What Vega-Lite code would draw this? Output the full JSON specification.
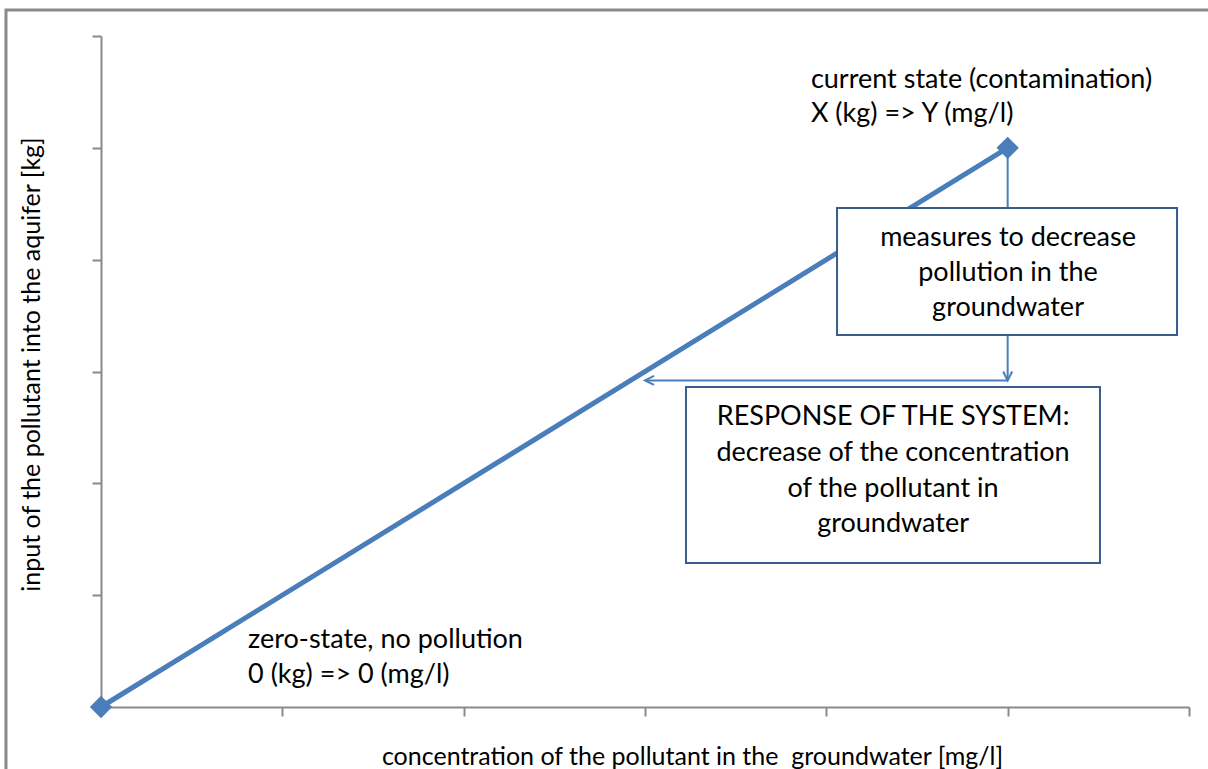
{
  "$schema": "https://vega.github.io/schema/vega-lite/v6.json",
  "width": 1088,
  "height": 671,
  "autosize": {"type": "none"},
  "padding": {"left": 101, "top": 36, "right": 19, "bottom": 62},
  "background": "white",
  "config": {
    "view": {"stroke": null},
    "font": "Lato",
    "axis": {
      "labels": false,
      "grid": false,
      "domainColor": "#8a8a8a",
      "domainWidth": 2,
      "tickColor": "#8a8a8a",
      "tickWidth": 2,
      "tickSize": 9,
      "titleFont": "Lato",
      "titleFontSize": 25,
      "titleFontWeight": "normal",
      "titleColor": "#000000"
    }
  },
  "datasets": {
    "border": [{"x1": -0.524, "x2": 7, "y1": 6.233, "y2": -1}],
    "series": [
      {"conc": 0, "input": 0, "state": "zero-state"},
      {"conc": 5, "input": 5, "state": "current state"}
    ],
    "connectors": [
      {"x1": 5, "y1": 5, "x2": 5, "y2": 2.92},
      {"x1": 5, "y1": 2.92, "x2": 3, "y2": 2.92}
    ],
    "boxes": [
      {"x1": 4.059, "x2": 5.934, "y1": 4.462, "y2": 3.326},
      {"x1": 3.226, "x2": 5.509, "y1": 2.861, "y2": 1.288}
    ],
    "freeText": [
      {"x": 3.915, "y": 5.607, "label": "current state (contamination)"},
      {"x": 3.915, "y": 5.303, "label": "X (kg) => Y (mg/l)"},
      {"x": 0.811, "y": 0.599, "label": "zero-state, no pollution"},
      {"x": 0.811, "y": 0.286, "label": "0 (kg) => 0 (mg/l)"}
    ],
    "boxText": [
      {"x": 5.002, "y": 4.194, "label": "measures to decrease"},
      {"x": 5.002, "y": 3.881, "label": "pollution in the"},
      {"x": 5.002, "y": 3.568, "label": "groundwater"},
      {"x": 4.368, "y": 2.593, "label": "RESPONSE OF THE SYSTEM:"},
      {"x": 4.368, "y": 2.271, "label": "decrease of the concentration"},
      {"x": 4.368, "y": 1.949, "label": "of the pollutant in"},
      {"x": 4.368, "y": 1.636, "label": "groundwater"}
    ],
    "arrowDown": [{"x": 5, "y": 2.92}],
    "arrowLeft": [{"x": 3, "y": 2.92}]
  },
  "layer": [
    {
      "data": {"name": "series"},
      "mark": {"type": "line", "color": "#4a7ebb", "strokeWidth": 5},
      "encoding": {
        "x": {
          "field": "conc", "type": "quantitative",
          "scale": {"domain": [0, 6], "nice": false},
          "axis": {"values": [0, 1, 2, 3, 4, 5, 6], "title": "concentration of the pollutant in the \u00a0groundwater [mg/l]", "titlePadding": 27, "titleX": 591}
        },
        "y": {
          "field": "input", "type": "quantitative",
          "scale": {"domain": [0, 6], "nice": false},
          "axis": {"values": [0, 1, 2, 3, 4, 5, 6], "title": "input of the pollutant into the aquifer [kg]", "titlePadding": 47, "titleY": 328}
        }
      }
    },
    {
      "data": {"name": "border"},
      "mark": {"type": "rect", "fill": null, "stroke": "#8a8a8a", "strokeWidth": 3, "clip": false},
      "encoding": {
        "x": {"field": "x1", "type": "quantitative"},
        "x2": {"field": "x2"},
        "y": {"field": "y1", "type": "quantitative"},
        "y2": {"field": "y2"}
      }
    },
    {
      "data": {"name": "connectors"},
      "mark": {"type": "rule", "color": "#4a7ebb", "strokeWidth": 2},
      "encoding": {
        "x": {"field": "x1", "type": "quantitative"},
        "x2": {"field": "x2"},
        "y": {"field": "y1", "type": "quantitative"},
        "y2": {"field": "y2"}
      }
    },
    {
      "data": {"name": "series"},
      "mark": {"type": "point", "shape": "diamond", "filled": true, "color": "#4a7ebb", "size": 500, "opacity": 1},
      "encoding": {
        "x": {"field": "conc", "type": "quantitative"},
        "y": {"field": "input", "type": "quantitative"}
      }
    },
    {
      "data": {"name": "boxes"},
      "mark": {"type": "rect", "fill": "white", "stroke": "#385d8a", "strokeWidth": 2},
      "encoding": {
        "x": {"field": "x1", "type": "quantitative"},
        "x2": {"field": "x2"},
        "y": {"field": "y1", "type": "quantitative"},
        "y2": {"field": "y2"}
      }
    },
    {
      "data": {"name": "freeText"},
      "mark": {"type": "text", "align": "left", "baseline": "middle", "fontSize": 27, "color": "#000000", "font": "Lato"},
      "encoding": {
        "x": {"field": "x", "type": "quantitative"},
        "y": {"field": "y", "type": "quantitative"},
        "text": {"field": "label"}
      }
    },
    {
      "data": {"name": "boxText"},
      "mark": {"type": "text", "align": "center", "baseline": "middle", "fontSize": 27, "color": "#000000", "font": "Lato"},
      "encoding": {
        "x": {"field": "x", "type": "quantitative"},
        "y": {"field": "y", "type": "quantitative"},
        "text": {"field": "label"}
      }
    },
    {
      "data": {"name": "arrowDown"},
      "mark": {"type": "point", "shape": "M-0.5,-1L0,0L0.5,-1", "filled": false, "stroke": "#4a7ebb", "strokeWidth": 2, "size": 324, "opacity": 1},
      "encoding": {
        "x": {"field": "x", "type": "quantitative"},
        "y": {"field": "y", "type": "quantitative"}
      }
    },
    {
      "data": {"name": "arrowLeft"},
      "mark": {"type": "point", "shape": "M1,-0.5L0,0L1,0.5", "filled": false, "stroke": "#4a7ebb", "strokeWidth": 2, "size": 324, "opacity": 1},
      "encoding": {
        "x": {"field": "x", "type": "quantitative"},
        "y": {"field": "y", "type": "quantitative"}
      }
    }
  ]
}
